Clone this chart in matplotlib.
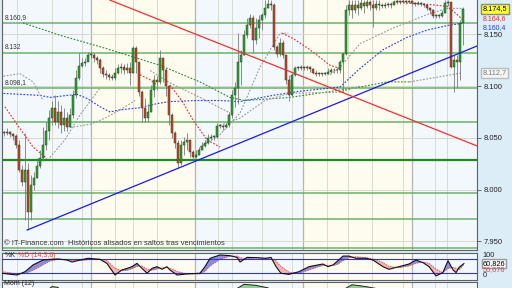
import matplotlib
matplotlib.use('Agg')
import matplotlib.pyplot as plt
import numpy as np

plt.rcParams['font.family'] = ['Liberation Sans', 'DejaVu Sans']

# ---- daily candles (IBEX future, points) ----
first_open = 8056
close = [8055, 8056, 8054, 8052, 8043, 8019, 8007, 8019, 7978, 8004,
         8011, 8023, 8030, 8043, 8057, 8069, 8079, 8065, 8075, 8062,
         8069, 8060, 8072, 8091, 8108, 8119, 8122, 8123, 8130, 8130,
         8127, 8125, 8117, 8112, 8111, 8109, 8108, 8113, 8117, 8118,
         8115, 8117, 8113, 8137, 8123, 8094, 8079, 8069, 8075, 8096,
         8106, 8104, 8127, 8115, 8100, 8072, 8055, 8045, 8026, 8043,
         8046, 8048, 8036, 8031, 8033, 8038, 8042, 8045, 8050, 8051,
         8051, 8061, 8061, 8060, 8062, 8072, 8091, 8098, 8123, 8130,
         8149, 8159, 8166, 8144, 8156, 8164, 8169, 8175, 8179, 8178,
         8138, 8131, 8142, 8130, 8106, 8091, 8111, 8117, 8117, 8118,
         8117, 8118, 8116, 8113, 8112, 8112, 8112, 8112, 8114, 8115,
         8115, 8115, 8123, 8131, 8173, 8178, 8173, 8178, 8175, 8180,
         8177, 8181, 8178, 8175, 8179, 8178, 8177, 8178, 8179, 8178,
         8181, 8182, 8181, 8182, 8181, 8182, 8180, 8179, 8180, 8179,
         8178, 8175, 8173, 8168, 8168, 8168, 8171, 8180, 8181, 8118,
         8125, 8123, 8161, 8174.5]
high = [8057, 8059, 8057, 8055, 8054, 8048, 8024, 8055, 8026, 8014,
        8017, 8030, 8038, 8060, 8065, 8077, 8086, 8091, 8086, 8082,
        8079, 8075, 8079, 8096, 8115, 8132, 8127, 8127, 8133, 8133,
        8132, 8129, 8127, 8119, 8115, 8113, 8112, 8117, 8121, 8122,
        8121, 8122, 8123, 8139, 8139, 8123, 8096, 8088, 8083, 8101,
        8111, 8110, 8135, 8127, 8117, 8101, 8074, 8057, 8048, 8048,
        8051, 8055, 8048, 8038, 8038, 8041, 8046, 8048, 8054, 8054,
        8053, 8064, 8063, 8063, 8064, 8075, 8096, 8104, 8151, 8135,
        8154, 8166, 8170, 8169, 8166, 8169, 8171, 8183, 8185, 8183,
        8180, 8140, 8146, 8144, 8130, 8111, 8113, 8119, 8119, 8120,
        8119, 8120, 8119, 8117, 8115, 8114, 8113, 8114, 8117, 8117,
        8117, 8118, 8125, 8133, 8178, 8183, 8183, 8183, 8183, 8185,
        8183, 8185, 8183, 8183, 8183, 8183, 8180, 8181, 8181, 8181,
        8183, 8184, 8183, 8184, 8183, 8183, 8182, 8181, 8182, 8181,
        8180, 8179, 8176, 8174, 8170, 8170, 8173, 8183, 8183, 8181,
        8130, 8130, 8164, 8176]
low = [8052, 8053, 8051, 8048, 8040, 8017, 8003, 7971, 7961, 7971,
       8000, 8011, 8021, 8028, 8038, 8048, 8062, 8062, 8059, 8055,
       8057, 8057, 8060, 8069, 8088, 8106, 8118, 8119, 8125, 8127,
       8123, 8121, 8113, 8109, 8107, 8106, 8106, 8106, 8112, 8113,
       8112, 8113, 8101, 8113, 8113, 8090, 8065, 8065, 8065, 8075,
       8089, 8096, 8102, 8104, 8090, 8062, 8050, 8040, 8021, 8024,
       8033, 8038, 8031, 8029, 8030, 8033, 8038, 8041, 8044, 8048,
       8048, 8050, 8059, 8058, 8059, 8060, 8069, 8080, 8083, 8101,
       8130, 8146, 8156, 8132, 8141, 8146, 8154, 8166, 8175, 8173,
       8135, 8128, 8129, 8127, 8102, 8086, 8090, 8110, 8115, 8115,
       8115, 8115, 8114, 8112, 8110, 8110, 8110, 8111, 8112, 8113,
       8113, 8113, 8113, 8094, 8130, 8169, 8166, 8171, 8169, 8173,
       8171, 8175, 8173, 8157, 8173, 8173, 8175, 8175, 8176, 8175,
       8178, 8179, 8179, 8180, 8179, 8180, 8178, 8177, 8178, 8177,
       8176, 8173, 8170, 8166, 8166, 8166, 8167, 8171, 8177, 8117,
       8094, 8098, 8106, 8140]

# support / resistance levels
levels = [8160.9, 8132, 8098.1, 8065.2, 8028.5, 7996.6, 7971.5, 7943.4]
level_tags = {8160.9: '8.160,9', 8132: '8.132', 8098.1: '8.098,1'}

# trend lines (candle index, price)
blue_trend_x = [7.7, 157.7]
blue_trend_y = [7960.9, 8138.7]
red_trend_x = [35.3, 157.7]
red_trend_y = [8183.0, 8042.1]

# moving averages (dotted)
ma_green_x = [6.3, 18.7, 32, 38.7, 52, 65.3, 75.3, 80.3, 95.3, 118.7, 127.7, 135.3]
ma_green_y = [8161, 8149, 8138, 8132, 8120, 8104, 8089, 8086, 8089, 8099, 8104, 8104]
ma_blue_x = [-1.3, 12, 15.3, 24.3, 27.7, 32, 35.3, 38.7, 45.3, 51, 55.3, 64.3, 72, 78.7,
             89.7, 98.7, 108.7, 112, 118.7, 126.3, 134.3, 141, 148.7, 152.7]
ma_blue_y = [8093, 8091, 8089, 8092, 8088, 8080, 8075, 8077, 8079, 8083, 8085, 8086, 8086, 8085,
             8091, 8095, 8098, 8099, 8117, 8135, 8147, 8154, 8159, 8160.4]
red_dots = [
    ([0.3, 5.3, 9.7, 14.3], [8080, 8059, 8041, 8030]),
    ([45.3, 48.7, 51], [8111, 8106, 8101]),
    ([55.3, 59.7, 63, 67.7, 72], [8101, 8084, 8067, 8048, 8041]),
    ([92.7, 96.3, 101, 104.3, 108.7, 112], [8151, 8146, 8137, 8130, 8120, 8117]),
    ([129.7, 141, 147.7, 150.3, 152.7], [8181, 8179, 8177, 8171, 8164.6]),
]
gray_dots = [
    ([-1.3, 5.3, 9.7, 13], [8109, 8112, 8104, 8086]),
    ([15.3, 20.3, 25.3, 32], [8031, 8048, 8072, 8098]),
    ([22, 28.7, 33.7, 38.7, 43.7], [8060, 8063, 8069, 8077, 8086]),
    ([48.7, 55.3, 65.3, 75.3], [8115, 8103, 8089, 8074]),
    ([65.3, 72, 78.7, 85.3, 92, 94.7], [8041, 8053, 8074, 8118, 8151, 8151]),
    ([72, 78.7, 87, 95.3, 112, 118.7], [8062, 8069, 8086, 8093, 8094, 8100]),
    ([108.7, 112, 118.7, 129.7, 141, 147.7, 152.7], [8111, 8118, 8141, 8156, 8169, 8175, 8175]),
    ([135.3, 145.3, 152.7], [8104, 8109, 8112.7]),
]

# stochastic (14,3,6)
st_x = [-0.7, 4.3, 7, 9.7, 13, 15.3, 18, 21, 22.7, 25.3, 28, 32, 34.3, 37, 39.3, 41, 42.7,
        44.3, 46, 47.7, 49.3, 51, 52.7, 54.3, 55.3, 57.7, 61, 65.3, 67, 68.7, 72, 75.3,
        77.7, 78.7, 81, 84, 87.3, 89, 90.7, 92.3, 95, 98.3, 101.7, 104.7, 106.3, 108,
        109.7, 111.3, 113, 115, 117.3, 120.7, 123, 126.3, 128.3, 131.7, 135, 137.3,
        139.7, 141.7, 144, 146.3, 148, 149.7, 150.7, 151.7, 153.3]
st_k = [17, 9, 24, 55, 77, 80, 82, 77, 68, 77, 85, 80, 62, 9, 32, 39, 47,
        62, 39, 17, 39, 47, 35, 47, 32, 9, 14, 17, 47, 85, 100, 97,
        89, 68, 89, 88, 85, 89, 47, 17, 12, 24, 47, 55, 59, 47,
        55, 74, 95, 95, 85, 85, 77, 47, 35, 47, 59, 77,
        65, 47, 5, 20, 74, 32, 20, 44, 60.8]
st_d = [25, 14, 15, 30, 55, 72, 80, 80, 76, 74, 78, 82, 74, 40, 28, 30, 38,
        48, 50, 35, 30, 36, 42, 42, 40, 25, 14, 14, 25, 50, 80, 94,
        95, 88, 82, 86, 84, 86, 72, 48, 22, 16, 32, 46, 52, 53,
        52, 58, 74, 88, 92, 88, 82, 66, 48, 42, 50, 62,
        68, 62, 36, 20, 38, 44, 40, 32, 56.7]

# momentum (12)
mom_x = [0, 10, 14, 16, 18, 20, 30, 40, 50, 58, 65, 72, 77, 80, 84, 88, 92, 96,
         105, 112, 114, 116, 120, 124, 130, 140, 148, 151, 153]
mom_y = [20, -40, 90, 120, 115, 60, 80, 20, -20, -80, -20, 40, 100, 135, 128, 112, 30, -30,
         -10, 20, 110, 132, 122, 108, 60, 20, 10, -60, -10]

# week / month separators (candle index)
week_marks = [4.3, 16, 26, 37, 43, 51, 71.3, 76, 86, 96, 107.7, 114.7, 122.7, 133, 143.7, 147.7]
month_marks = [29, 63.7, 99.7, 136]

# ---------------------------------------------------------------
W, H = 512, 288
fig = plt.figure(figsize=(W / 100, H / 100), dpi=100, facecolor='#dcedf8')
xl = (-0.67, 157.67)
bands = [xl[0]] + month_marks + [xl[1]]
band_cols = ['#f3f8fd', '#fdfcef']


def panel_bg(ax):
    for k in range(len(bands) - 1):
        ax.axvspan(bands[k], bands[k + 1], color=band_cols[k % 2], zorder=0, lw=0)
    for m in week_marks:
        ax.axvline(m, color='#dadad0', lw=0.7, zorder=1)
    for m in month_marks:
        ax.axvline(m, color='#b4b4b0', lw=0.9, zorder=1)
    for s in ax.spines.values():
        s.set_color('#606060')
        s.set_linewidth(0.8)


ax = fig.add_axes([2 / W, 38 / H, 475 / W, 250 / H])
panel_bg(ax)
ax.set_xlim(*xl)
ax.set_ylim(7941.6, 8183.1)
ax.spines['top'].set_visible(False)
ax.set_xticks([])
ax.yaxis.tick_right()
ticks = [7950, 8000, 8050, 8100, 8150]
ax.set_yticks(ticks)
ax.set_yticklabels(['{:,}'.format(t).replace(',', '.') for t in ticks], fontsize=5.5, color='#222')
ax.tick_params(axis='y', length=3, width=0.6, color='#555', pad=2)
for t in ticks:
    ax.axhline(t, color='#d8d8d0', lw=0.7, zorder=1)

for lv in levels:
    strong = lv == 8028.5
    ax.axhline(lv, color='#1f8a1f' if strong else '#5aaa5a', lw=1.6 if strong else 1.1,
               alpha=1 if strong else 0.9, zorder=2)
    if lv in level_tags:
        ax.annotate(level_tags[lv], xy=(0.006, lv), xycoords=('axes fraction', 'data'),
                    xytext=(0, 1.5), textcoords='offset points', fontsize=4.8,
                    color='#333', va='bottom', ha='left', zorder=8)

dot = (0, (1.6, 1.4))
ax.plot(ma_green_x, ma_green_y, color='#2e8b2e', lw=0.8, ls=dot, zorder=3)
ax.plot(ma_blue_x, ma_blue_y, color='#2a3fe0', lw=0.8, ls=dot, zorder=3)
for xs, ys in gray_dots:
    ax.plot(xs, ys, color='#999999', lw=0.8, ls=dot, zorder=3)
for xs, ys in red_dots:
    ax.plot(xs, ys, color='#e03030', lw=0.8, ls=dot, zorder=3)

# candles
c = np.array(close, float)
o = np.r_[first_open, c[:-1]]
idx = np.arange(len(c))
up = c >= o
ax.vlines(idx, low, high, color='#7a7a7a', lw=0.6, zorder=4)
body_lo = np.minimum(o, c)
body_h = np.maximum(np.abs(c - o), 0.9)
ax.bar(idx, body_h, bottom=body_lo, width=0.72, color=np.where(up, '#1fb01f', '#d4431a'),
       edgecolor='#333333', linewidth=0.35, zorder=5)

ax.plot(blue_trend_x, blue_trend_y, color='#1a1ae6', lw=0.9, zorder=6)
ax.plot(red_trend_x, red_trend_y, color='#f03030', lw=0.9, zorder=6)

ax.text(0.004, 7944.5, '\u00a9 IT-Finance.com  Hist\u00f3ricos alisados en saltos tras vencimientos',
        transform=ax.get_yaxis_transform(), fontsize=5.4, color='#333', va='bottom', zorder=8)

# right-hand value tags
yt = ax.get_yaxis_transform()
ax.text(1.012, 8156.8, '8.160,4', transform=yt, fontsize=5.0, color='#2a3fe0', va='center', clip_on=False)
ax.text(1.012, 8165.2, '8.164,6', transform=yt, fontsize=5.0, color='#e03030', va='center', clip_on=False)
ax.text(1.012, 8174.5, '8.174,5', transform=yt, fontsize=5.3, color='#000', va='center', clip_on=False,
        bbox=dict(boxstyle='square,pad=0.2', fc='#ffff33', ec='#888'))
ax.text(1.012, 8112.7, '8.112,7', transform=yt, fontsize=5.3, color='#777', va='center', clip_on=False,
        bbox=dict(boxstyle='square,pad=0.2', fc='#f4f6f6', ec='#bbb'))

# stochastic panel
ax2 = fig.add_axes([2 / W, 8 / H, 475 / W, 27 / H])
panel_bg(ax2)
ax2.set_xlim(*xl)
ax2.set_ylim(-13.6, 109)
ax2.set_xticks([])
ax2.set_yticks([])
kk = np.array(st_k)
dd = np.array(st_d)
ax2.fill_between(st_x, kk, dd, where=kk >= dd, interpolate=True, color='#8c8ce0', lw=0, zorder=2)
ax2.fill_between(st_x, kk, dd, where=kk < dd, interpolate=True, color='#f4b4b4', lw=0, zorder=2)
ax2.plot(st_x, dd, color='#e05050', lw=0.6, ls=(0, (2, 1)), zorder=3)
ax2.plot(st_x, kk, color='#111', lw=0.8, zorder=4)
ax2.axhline(80, color='#3434c8', lw=0.8, zorder=3)
ax2.axhline(20, color='#3434c8', lw=0.8, zorder=3)
ax2.text(0.005, 97, '%K', transform=ax2.get_yaxis_transform(), fontsize=5, color='#222', va='center')
ax2.text(0.034, 97, '%D (14,3,6)', transform=ax2.get_yaxis_transform(), fontsize=5, color='#e04040', va='center')
y2 = ax2.get_yaxis_transform()
ax2.text(1.012, 97, '100', transform=y2, fontsize=5.3, color='#222', va='center', clip_on=False)
ax2.text(1.012, 8, '0', transform=y2, fontsize=5.3, color='#222', va='center', clip_on=False)
ax2.text(1.012, 60.8, '60,826', transform=y2, fontsize=5.3, color='#000', va='center', clip_on=False,
         bbox=dict(boxstyle='square,pad=0.15', fc='#f8f8f8', ec='#999'))
ax2.text(1.012, 35, '56,676', transform=y2, fontsize=5.3, color='#e04040', va='center', clip_on=False)

# momentum panel (only its top edge is visible)
ax3 = fig.add_axes([2 / W, -40 / H, 475 / W, 46 / H])
panel_bg(ax3)
ax3.set_xlim(*xl)
ax3.set_ylim(-150, 150)
ax3.set_xticks([])
ax3.set_yticks([])
my = np.array(mom_y, float)
ax3.fill_between(mom_x, my, 0, where=my > 0, interpolate=True, color='#8fd08f', lw=0, zorder=2)
ax3.plot(mom_x, my, color='#222', lw=0.7, zorder=3)
ax3.text(0.005, 137, 'Mom (12)', transform=ax3.get_yaxis_transform(), fontsize=5, color='#222', va='center')

fig.savefig('out.png', dpi=100, facecolor=fig.get_facecolor())
